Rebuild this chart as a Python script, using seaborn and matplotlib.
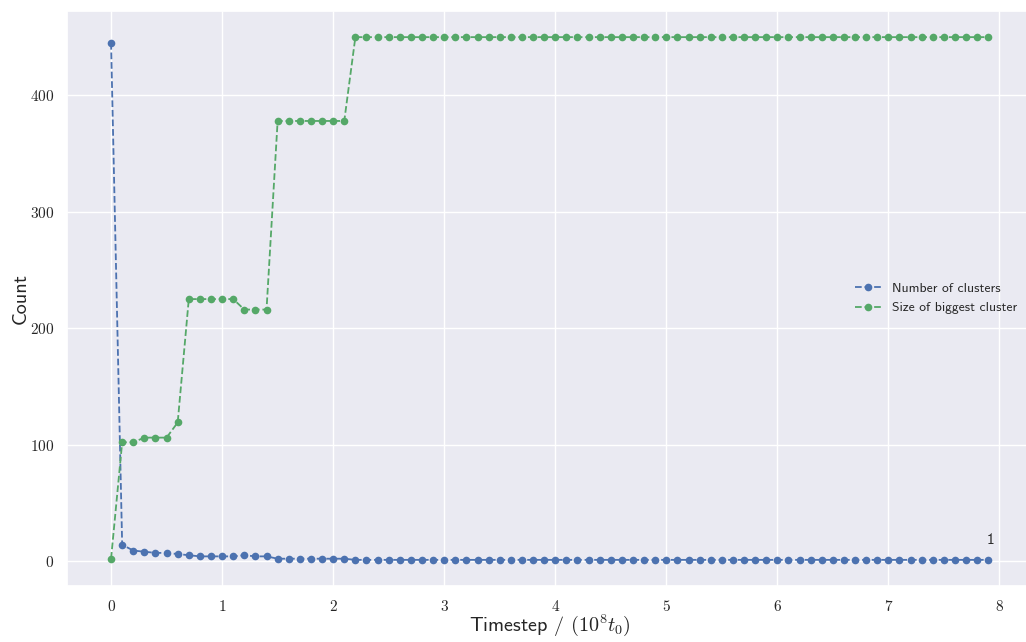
import numpy as np
import pandas as pd
import matplotlib
matplotlib.use("Agg")
import matplotlib.pyplot as plt
import seaborn as sns

# Simulation snapshots, one every 0.1 (units of 10^8 t0)
timestep = np.round(np.arange(0, 8.0, 0.1), 1)

number_of_clusters = [
    445, 14, 9, 8, 7, 7, 6, 5, 4, 4,
    4, 4, 5, 4, 4, 2, 2, 2, 2, 2,
    2, 2, 1, 1, 1, 1, 1, 1, 1, 1,
    1, 1, 1, 1, 1, 1, 1, 1, 1, 1,
    1, 1, 1, 1, 1, 1, 1, 1, 1, 1,
    1, 1, 1, 1, 1, 1, 1, 1, 1, 1,
    1, 1, 1, 1, 1, 1, 1, 1, 1, 1,
    1, 1, 1, 1, 1, 1, 1, 1, 1, 1,
]

size_of_biggest_cluster = [
    2, 102, 102, 106, 106, 106, 119, 225, 225, 225,
    225, 225, 216, 216, 216, 378, 378, 378, 378, 378,
    378, 378, 450, 450, 450, 450, 450, 450, 450, 450,
    450, 450, 450, 450, 450, 450, 450, 450, 450, 450,
    450, 450, 450, 450, 450, 450, 450, 450, 450, 450,
    450, 450, 450, 450, 450, 450, 450, 450, 450, 450,
    450, 450, 450, 450, 450, 450, 450, 450, 450, 450,
    450, 450, 450, 450, 450, 450, 450, 450, 450, 450,
]

series_labels = ["Number of clusters", "Size of biggest cluster"]
series_colors = ["#4C72B0", "#55A868"]

sns.set_theme(style="darkgrid")
plt.rcParams["mathtext.fontset"] = "cm"
plt.rcParams["axes.formatter.use_mathtext"] = True
plt.rcParams["axes.unicode_minus"] = False

sans = "cmss10"
serif = "cmr10"

fig = plt.figure(figsize=(10.26, 6.42), dpi=100)
ax = fig.add_axes([67.2 / 1026, 56 / 642, 965 / 1026, 575 / 642])

for values, label, color in zip(
    [number_of_clusters, size_of_biggest_cluster], series_labels, series_colors
):
    df = pd.DataFrame({"t": timestep, "count": values})
    sns.lineplot(
        data=df, x="t", y="count", ax=ax, color=color, label=label,
        linestyle="--", linewidth=1.3, marker="o", markersize=5.5,
        markeredgewidth=0, markeredgecolor=color,
    )

# Final number of clusters
ax.annotate(
    str(number_of_clusters[-1]), xy=(timestep[-1], number_of_clusters[-1]),
    xytext=(2, 16), textcoords="offset pixels", ha="center", va="baseline",
    fontsize=11, family=sans, color=".15",
)

ax.set_xlabel(r"Timestep / $(10^8 t_0)$", fontsize=14.5, family=sans, labelpad=-1)
ax.set_ylabel("Count", fontsize=14.5, family=sans, labelpad=0)

for lbl in ax.get_xticklabels() + ax.get_yticklabels():
    lbl.set_family(serif)
    lbl.set_fontsize(11)

leg = ax.legend(loc="center right", frameon=False, prop={"family": sans, "size": 9.8},
                borderaxespad=0.7, handlelength=1.9)

fig.savefig("out.png", dpi=100)
